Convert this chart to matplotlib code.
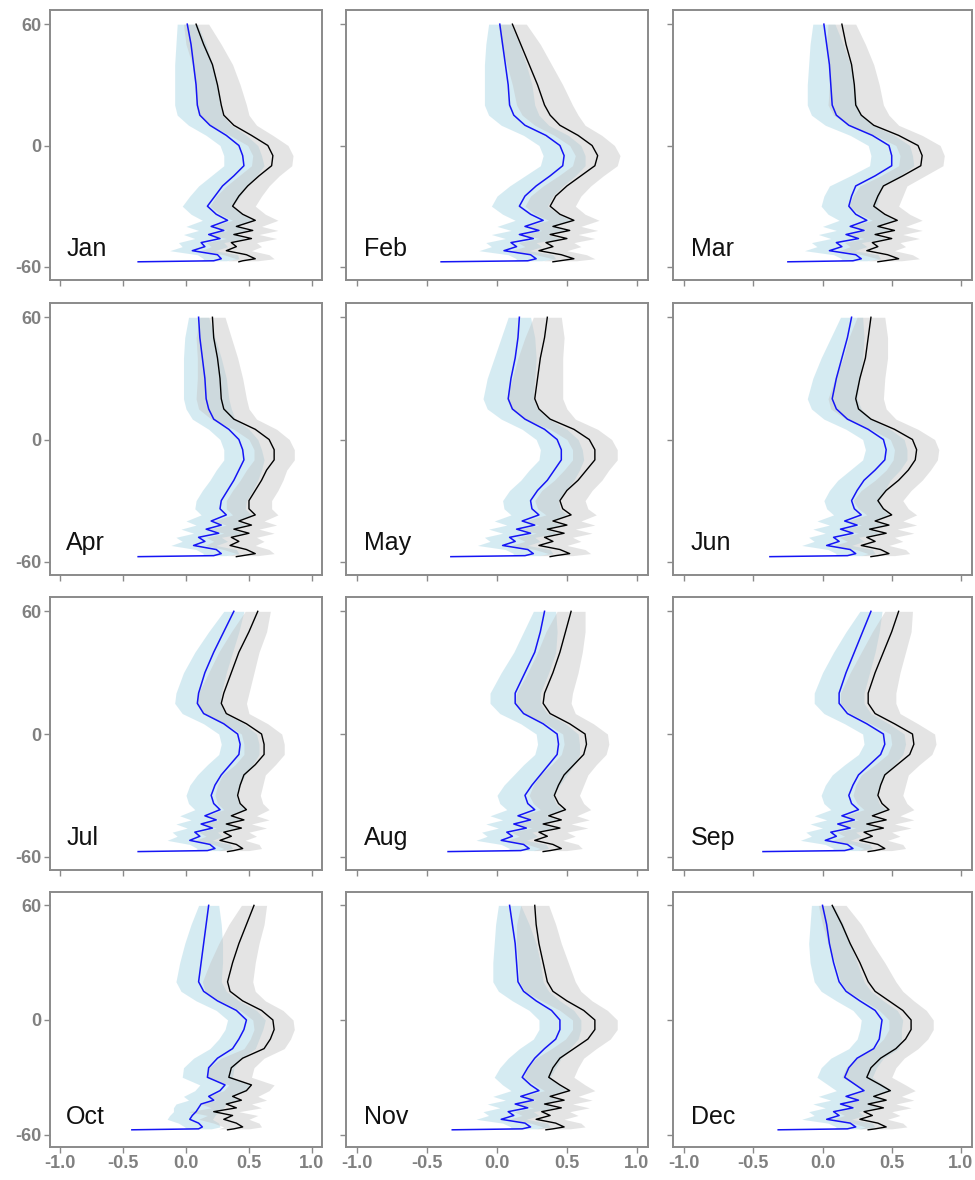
import matplotlib
matplotlib.use("Agg")
import matplotlib.pyplot as plt
import numpy as np

MONTHS = ["Jan", "Feb", "Mar", "Apr", "May", "Jun",
          "Jul", "Aug", "Sep", "Oct", "Nov", "Dec"]

LATS = [60, 50, 40, 30, 20, 15, 10, 5, 0, -5, -10, -15, -20, -25, -30,
        -34, -37, -40, -42, -44, -46, -48, -50, -52, -54, -56, -57, -57.5]

BLACK = {
    "Jan": [0.08, 0.14, 0.21, 0.25, 0.28, 0.30, 0.38, 0.52, 0.65, 0.69, 0.68, 0.58, 0.49, 0.42, 0.37, 0.45, 0.55, 0.40, 0.53, 0.38, 0.52, 0.36, 0.40, 0.32, 0.48, 0.55, 0.45, 0.42],
    "Feb": [0.11, 0.17, 0.23, 0.29, 0.34, 0.38, 0.45, 0.58, 0.68, 0.72, 0.70, 0.60, 0.50, 0.42, 0.38, 0.45, 0.55, 0.40, 0.52, 0.38, 0.50, 0.35, 0.40, 0.30, 0.46, 0.55, 0.45, 0.40],
    "Mar": [0.14, 0.17, 0.21, 0.23, 0.24, 0.28, 0.37, 0.55, 0.69, 0.72, 0.71, 0.58, 0.44, 0.40, 0.37, 0.45, 0.54, 0.40, 0.52, 0.38, 0.50, 0.36, 0.40, 0.32, 0.47, 0.55, 0.45, 0.40],
    "Apr": [0.21, 0.22, 0.25, 0.27, 0.28, 0.30, 0.38, 0.55, 0.66, 0.70, 0.70, 0.64, 0.60, 0.55, 0.50, 0.50, 0.55, 0.42, 0.52, 0.38, 0.50, 0.36, 0.42, 0.35, 0.48, 0.55, 0.45, 0.40],
    "May": [0.36, 0.34, 0.31, 0.29, 0.27, 0.30, 0.38, 0.55, 0.66, 0.70, 0.70, 0.64, 0.58, 0.50, 0.45, 0.47, 0.53, 0.40, 0.50, 0.36, 0.48, 0.34, 0.40, 0.30, 0.45, 0.52, 0.42, 0.38],
    "Jun": [0.35, 0.33, 0.31, 0.27, 0.24, 0.26, 0.35, 0.52, 0.65, 0.68, 0.67, 0.62, 0.55, 0.46, 0.40, 0.44, 0.50, 0.38, 0.48, 0.34, 0.46, 0.32, 0.38, 0.28, 0.42, 0.48, 0.40, 0.35],
    "Jul": [0.57, 0.50, 0.42, 0.36, 0.30, 0.28, 0.32, 0.48, 0.60, 0.62, 0.62, 0.55, 0.46, 0.43, 0.41, 0.43, 0.48, 0.36, 0.46, 0.32, 0.44, 0.30, 0.36, 0.27, 0.40, 0.45, 0.38, 0.33],
    "Aug": [0.53, 0.49, 0.45, 0.40, 0.34, 0.33, 0.38, 0.52, 0.63, 0.64, 0.62, 0.55, 0.48, 0.44, 0.41, 0.44, 0.49, 0.37, 0.46, 0.33, 0.45, 0.30, 0.36, 0.27, 0.40, 0.46, 0.38, 0.33],
    "Sep": [0.55, 0.50, 0.44, 0.38, 0.33, 0.33, 0.38, 0.52, 0.65, 0.66, 0.63, 0.54, 0.45, 0.42, 0.40, 0.43, 0.48, 0.36, 0.46, 0.32, 0.44, 0.30, 0.36, 0.27, 0.40, 0.45, 0.38, 0.33],
    "Oct": [0.54, 0.48, 0.42, 0.37, 0.33, 0.35, 0.45, 0.60, 0.69, 0.70, 0.67, 0.62, 0.45, 0.36, 0.34, 0.52, 0.48, 0.37, 0.44, 0.32, 0.40, 0.22, 0.37, 0.30, 0.40, 0.45, 0.38, 0.33],
    "Nov": [0.27, 0.28, 0.30, 0.33, 0.36, 0.40, 0.50, 0.62, 0.70, 0.70, 0.65, 0.55, 0.45, 0.40, 0.37, 0.45, 0.52, 0.38, 0.48, 0.34, 0.46, 0.32, 0.38, 0.28, 0.42, 0.48, 0.40, 0.35],
    "Dec": [0.07, 0.14, 0.20, 0.27, 0.33, 0.38, 0.48, 0.58, 0.64, 0.64, 0.60, 0.53, 0.42, 0.35, 0.32, 0.42, 0.49, 0.37, 0.46, 0.33, 0.44, 0.30, 0.36, 0.27, 0.40, 0.46, 0.38, 0.33],
}

BLUE = {
    "Jan": [0.01, 0.04, 0.06, 0.08, 0.09, 0.11, 0.19, 0.32, 0.42, 0.45, 0.46, 0.38, 0.29, 0.23, 0.17, 0.24, 0.33, 0.20, 0.30, 0.18, 0.27, 0.12, 0.15, 0.05, 0.25, 0.28, 0.22, -0.38],
    "Feb": [0.02, 0.04, 0.06, 0.08, 0.09, 0.12, 0.20, 0.35, 0.45, 0.48, 0.47, 0.38, 0.28, 0.20, 0.16, 0.24, 0.33, 0.20, 0.30, 0.16, 0.26, 0.10, 0.14, 0.05, 0.24, 0.28, 0.22, -0.40],
    "Mar": [0.01, 0.03, 0.05, 0.06, 0.07, 0.10, 0.19, 0.36, 0.48, 0.50, 0.50, 0.38, 0.24, 0.21, 0.19, 0.24, 0.32, 0.20, 0.30, 0.17, 0.26, 0.10, 0.14, 0.05, 0.24, 0.28, 0.22, -0.25],
    "Apr": [0.10, 0.11, 0.13, 0.15, 0.16, 0.18, 0.22, 0.34, 0.42, 0.45, 0.46, 0.42, 0.38, 0.33, 0.28, 0.27, 0.32, 0.20, 0.28, 0.16, 0.26, 0.10, 0.15, 0.06, 0.24, 0.28, 0.22, -0.38],
    "May": [0.16, 0.15, 0.13, 0.10, 0.08, 0.11, 0.20, 0.34, 0.43, 0.46, 0.46, 0.41, 0.36, 0.29, 0.24, 0.25, 0.30, 0.18, 0.27, 0.14, 0.24, 0.09, 0.13, 0.04, 0.22, 0.26, 0.20, -0.33],
    "Jun": [0.21, 0.18, 0.14, 0.10, 0.07, 0.10, 0.18, 0.33, 0.44, 0.46, 0.45, 0.38, 0.30, 0.25, 0.21, 0.23, 0.28, 0.16, 0.25, 0.13, 0.22, 0.08, 0.12, 0.03, 0.20, 0.24, 0.18, -0.38],
    "Jul": [0.38, 0.30, 0.22, 0.15, 0.10, 0.09, 0.14, 0.30, 0.41, 0.43, 0.42, 0.35, 0.28, 0.23, 0.20, 0.22, 0.27, 0.15, 0.24, 0.12, 0.21, 0.07, 0.11, 0.03, 0.19, 0.23, 0.17, -0.38],
    "Aug": [0.34, 0.31, 0.27, 0.20, 0.13, 0.13, 0.19, 0.33, 0.43, 0.44, 0.43, 0.37, 0.31, 0.25, 0.20, 0.22, 0.27, 0.15, 0.24, 0.12, 0.21, 0.07, 0.11, 0.03, 0.19, 0.23, 0.17, -0.35],
    "Sep": [0.35, 0.29, 0.23, 0.17, 0.12, 0.12, 0.18, 0.32, 0.44, 0.45, 0.42, 0.34, 0.26, 0.22, 0.19, 0.21, 0.26, 0.14, 0.23, 0.11, 0.20, 0.06, 0.10, 0.02, 0.18, 0.22, 0.16, -0.43],
    "Oct": [0.18, 0.16, 0.14, 0.12, 0.10, 0.14, 0.25, 0.40, 0.48, 0.46, 0.42, 0.37, 0.25, 0.18, 0.17, 0.31, 0.27, 0.18, 0.22, 0.12, 0.10, 0.08, 0.05, 0.03, 0.10, 0.13, 0.10, -0.43],
    "Nov": [0.09, 0.11, 0.13, 0.14, 0.15, 0.19, 0.28, 0.39, 0.45, 0.45, 0.42, 0.34, 0.27, 0.22, 0.18, 0.24, 0.30, 0.17, 0.26, 0.13, 0.22, 0.08, 0.12, 0.03, 0.20, 0.24, 0.18, -0.32],
    "Dec": [0.00, 0.03, 0.05, 0.08, 0.12, 0.17, 0.27, 0.38, 0.43, 0.42, 0.41, 0.37, 0.25, 0.19, 0.16, 0.24, 0.30, 0.17, 0.26, 0.13, 0.22, 0.08, 0.12, 0.03, 0.20, 0.24, 0.18, -0.32],
}

# half-widths of the uncertainty bands, read by latitude
GRAY_HW = [0.10, 0.14, 0.16, 0.18, 0.20, 0.20, 0.18, 0.17, 0.16, 0.16, 0.16, 0.16, 0.17, 0.18, 0.18,
           0.18, 0.18, 0.20, 0.20, 0.20, 0.20, 0.20, 0.20, 0.20, 0.18, 0.15, 0.12, 0.02]
BLUE_HW = [0.08, 0.12, 0.15, 0.17, 0.18, 0.18, 0.17, 0.16, 0.15, 0.15, 0.16, 0.18, 0.19, 0.20, 0.20,
           0.20, 0.20, 0.20, 0.20, 0.20, 0.20, 0.18, 0.18, 0.18, 0.16, 0.14, 0.10, 0.02]

X_TICKS = [-1.0, -0.5, 0.0, 0.5, 1.0]
X_TICKLABELS = ["-1.0", "-0.5", "0.0", "0.5", "1.0"]
Y_TICKS = [-60, 0, 60]
Y_TICKLABELS = ["-60", "0", "60"]

W, H = 975, 1180
fig = plt.figure(figsize=(W / 100, H / 100), dpi=100)
fig.patch.set_facecolor("white")

col_left = [50, 346, 673]
col_right = [322, 648, 972]
row_top = [10, 303, 597, 892]
row_bot = [280, 575, 870, 1147]

FRAME = "#8a8a8a"
TICKC = "#8a8a8a"
lats = np.array(LATS)
ghw = np.array(GRAY_HW)
bhw = np.array(BLUE_HW)

for i, m in enumerate(MONTHS):
    r, c = divmod(i, 3)
    l, rr = col_left[c], col_right[c]
    t, b = row_top[r], row_bot[r]
    ax = fig.add_axes([l / W, 1 - b / H, (rr - l) / W, (b - t) / H])
    bk = np.array(BLACK[m])
    bl = np.array(BLUE[m])
    n = len(lats) - 1
    ax.fill_betweenx(lats[:n], bl[:n] - bhw[:n], bl[:n] + bhw[:n],
                     color="#add8e6", alpha=0.5, linewidth=0)
    ax.fill_betweenx(lats[:n], bk[:n] - ghw[:n], bk[:n] + ghw[:n],
                     color="#c4c4c4", alpha=0.45, linewidth=0)
    ax.plot(bk, lats, color="black", lw=1.0)
    ax.plot(bl, lats, color="#1515f5", lw=1.1)
    ax.set_xlim(-1.08, 1.08)
    ax.set_ylim(-66.5, 67)
    ax.set_xticks(X_TICKS)
    ax.set_yticks(Y_TICKS)
    if r == 3:
        ax.set_xticklabels(X_TICKLABELS)
    else:
        ax.set_xticklabels([])
    if c == 0:
        ax.set_yticklabels(Y_TICKLABELS)
    else:
        ax.set_yticklabels([])
    ax.tick_params(axis="both", direction="out", length=4, width=1,
                   color=TICKC, labelcolor="#808080", labelsize=13, pad=2)
    for lab in ax.get_xticklabels() + ax.get_yticklabels():
        lab.set_fontweight("bold")
        lab.set_fontfamily("Liberation Sans")
    for s in ax.spines.values():
        s.set_color(FRAME)
        s.set_linewidth(1.4)
    ax.text(-0.95, -51, m, fontsize=18, color="#111111", family="Liberation Sans",
            ha="left", va="center")

fig.savefig("out.png", dpi=100, facecolor="white")
